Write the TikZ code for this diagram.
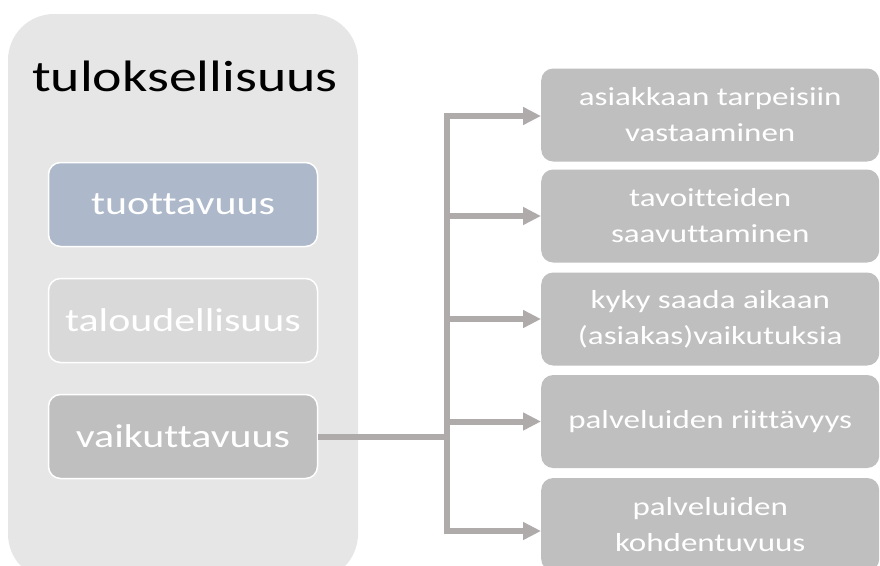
\documentclass[tikz,border=0pt]{standalone}
\usepackage{fontspec}
\setmainfont[FakeStretch=1.27, Ligatures=NoCommon]{Carlito}
\usetikzlibrary{arrows.meta}

\definecolor{taustaharmaa}{HTML}{E6E6E6}
\definecolor{sininen}{HTML}{ADB9CA}
\definecolor{vaalea}{HTML}{D9D9D9}
\definecolor{keski}{HTML}{BFBFBF}
\definecolor{nuoli}{HTML}{AFABAB}

\begin{document}
\begin{tikzpicture}[x=1pt, y=-1pt,
    osa/.style={draw=white, line width=1.5pt, rounded corners=12pt, minimum width=269pt, minimum height=84pt, text=white, font=\fontsize{33}{36}\selectfont},
    tulos/.style={fill=keski, rounded corners=12pt, minimum width=338pt, minimum height=93pt, text=white, align=center, font=\fontsize{26}{36}\selectfont},
    yhteys/.style={draw=nuoli, line width=6pt},
    >={Triangle[length=18pt, width=17pt]}]
    \useasboundingbox (0,0) rectangle (880,565);

    % Iso laatikko
    \fill[taustaharmaa, rounded corners=46pt] (8,14) rectangle (358,580);
    \node[font=\fontsize{44}{48}\selectfont] (otsikko) at (185,76) {tuloksellisuus};

    % Osat
    \node[osa, fill=sininen] (tuott) at (183,204.5) {tuottavuus};
    \node[osa, fill=vaalea] (talous) at (183,320.5) {taloudellisuus};
    \node[osa, fill=keski] (vaik) at (183,436.5) {vaikuttavuus};

    % Vaikutukset
    \node[tulos, anchor=west] (v1) at (541,115) {asiakkaan tarpeisiin\\vastaaminen};
    \node[tulos, anchor=west] (v2) at (541,216) {tavoitteiden\\saavuttaminen};
    \node[tulos, anchor=west] (v3) at (541,319) {kyky saada aikaan\\(asiakas)vaikutuksia};
    \node[tulos, anchor=west] (v4) at (541,421.5) {palveluiden riittävyys};
    \node[tulos, anchor=west] (v5) at (541,524.5) {palveluiden\\kohdentuvuus};

    % Nuolet
    \coordinate (haara) at (447,436.5);
    \coordinate (ylin) at (447,116);
    \coordinate (alin) at (447,531);
    \draw[yhteys] (vaik.east) -- (haara);
    \draw[yhteys] ([yshift=3pt]ylin) -- ([yshift=-3pt]alin);
    \draw[yhteys, ->] (ylin) -- (ylin -| v1.west);
    \draw[yhteys, ->] (ylin |- v2.west) -- (v2.west);
    \draw[yhteys, ->] (ylin |- v3.west) -- (v3.west);
    \draw[yhteys, ->] (ylin |- v4.west) -- (v4.west);
    \draw[yhteys, ->] (alin) -- (alin -| v5.west);
\end{tikzpicture}
\end{document}
